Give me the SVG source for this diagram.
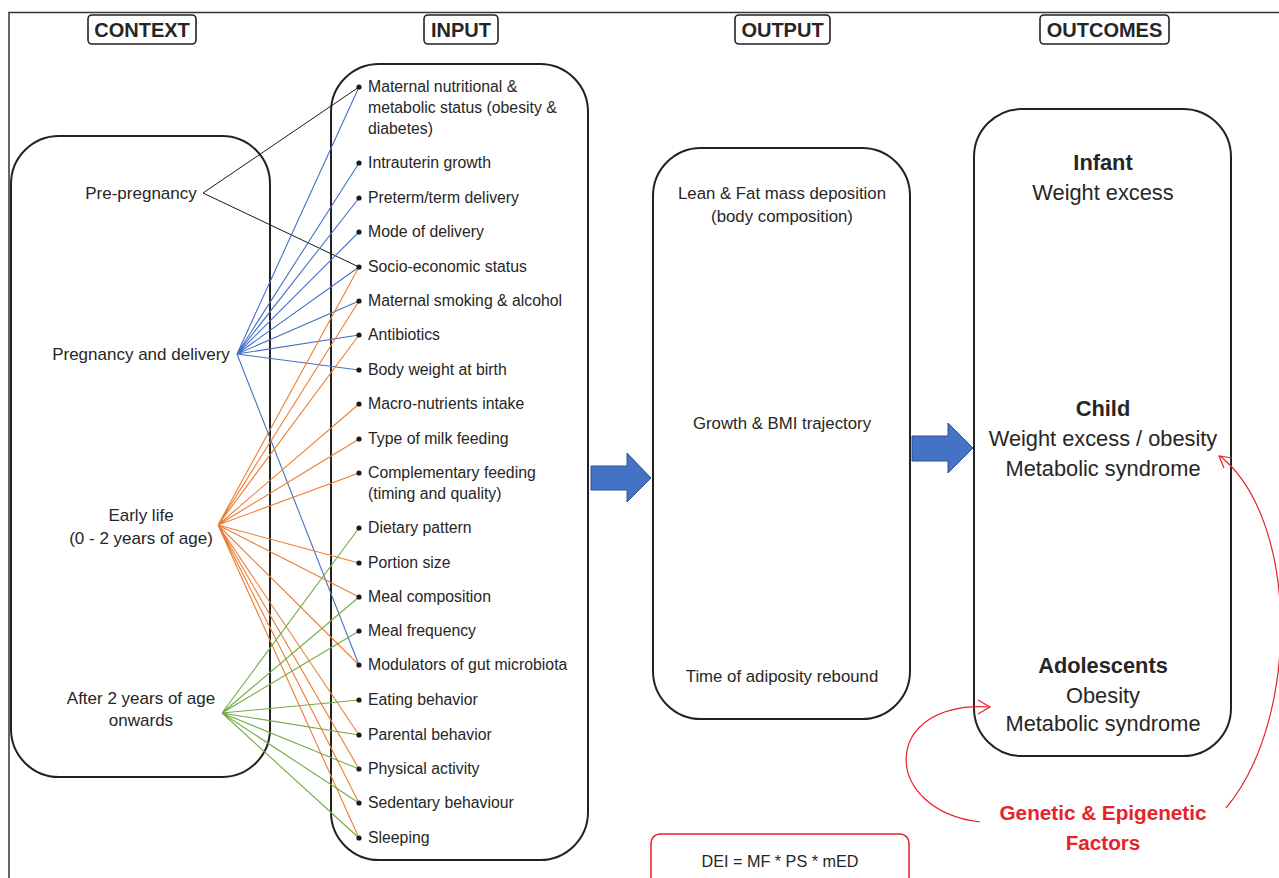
<svg xmlns="http://www.w3.org/2000/svg" width="1279" height="878" viewBox="0 0 1279 878">
<style>
text{font-family:"Liberation Sans","Open Sans",Arial,sans-serif;fill:#262626}
.hdr{font-size:20px;font-weight:bold;text-anchor:middle}
.hbox{fill:#fff;stroke:#222;stroke-width:1.6}
.box{fill:#fff;stroke:#222;stroke-width:2}
.ctx{font-size:17px;text-anchor:middle}
.item{font-size:15.8px}
.out{font-size:16.8px;text-anchor:middle}
.dei{font-size:16.2px;text-anchor:middle}
.oc{font-size:21.8px;text-anchor:middle}
.ocb{font-size:21.8px;font-weight:bold;text-anchor:middle}
.red{font-size:20.7px;font-weight:bold;text-anchor:middle;fill:#E8222A}
.dot{fill:#1a1a1a}
.k{stroke:#1a1a1a;stroke-width:1;fill:none}
.b{stroke:#4472C4;stroke-width:1.1;fill:none}
.o{stroke:#ED7D31;stroke-width:1.1;fill:none}
.g{stroke:#70AD47;stroke-width:1.1;fill:none}
.arrow{fill:#4472C4;stroke:#2F528F;stroke-width:1}
.rc{stroke:#E8222A;stroke-width:1.2;fill:none}
</style>
<rect width="1279" height="878" fill="#fff"/>
<g id="frame"><path d="M9,878 V12.5 H1279" fill="none" stroke="#333" stroke-width="1.5"/></g>

<g id="headers">
<rect class="hbox" x="88" y="15" width="108" height="29" rx="4"/><text class="hdr" x="142" y="37">CONTEXT</text>
<rect class="hbox" x="424" y="15" width="74" height="29" rx="4"/><text class="hdr" x="461" y="37">INPUT</text>
<rect class="hbox" x="735" y="15" width="95" height="29" rx="4"/><text class="hdr" x="782.5" y="37">OUTPUT</text>
<rect class="hbox" x="1040" y="15" width="129" height="29" rx="4"/><text class="hdr" x="1104.5" y="37">OUTCOMES</text>
</g>

<g id="context">
<rect class="box" x="11" y="136" width="259" height="641" rx="48"/>
<text class="ctx" x="141" y="199">Pre-pregnancy</text>
<text class="ctx" x="141" y="360">Pregnancy and delivery</text>
<text class="ctx" x="141" y="521">Early life</text>
<text class="ctx" x="141" y="544">(0 - 2 years of age)</text>
<text class="ctx" x="141" y="704">After 2 years of age</text>
<text class="ctx" x="141" y="726">onwards</text>
</g>

<g id="input">
<rect class="box" x="331" y="64" width="257" height="796" rx="48"/>
</g>

<g id="output">
<rect class="box" x="653" y="148" width="257" height="571" rx="48"/>
<text class="out" x="782" y="199">Lean &amp; Fat mass deposition</text>
<text class="out" x="782" y="222">(body composition)</text>
<text class="out" x="782" y="429">Growth &amp; BMI trajectory</text>
<text class="out" x="782" y="682">Time of adiposity rebound</text>
</g>

<g id="outcomes">
<rect class="box" x="974" y="109" width="257" height="647" rx="48"/>
<text class="ocb" x="1103" y="170">Infant</text>
<text class="oc" x="1103" y="200">Weight excess</text>
<text class="ocb" x="1103" y="416">Child</text>
<text class="oc" x="1103" y="446">Weight excess / obesity</text>
<text class="oc" x="1103" y="476">Metabolic syndrome</text>
<text class="ocb" x="1103" y="673">Adolescents</text>
<text class="oc" x="1103" y="703">Obesity</text>
<text class="oc" x="1103" y="731">Metabolic syndrome</text>
</g>

<g id="genetic">
<text class="red" x="1103" y="820">Genetic &amp; Epigenetic</text>
<text class="red" x="1103" y="850">Factors</text>
</g>

<g id="dei">
<rect x="651" y="834" width="258" height="60" rx="9" fill="#fff" stroke="#E8222A" stroke-width="1.5"/>
<text class="dei" x="780" y="867">DEI = MF * PS * mED</text>
</g>

<g id="connectors">
<path class="k" d="M203,193 L359,87 M203,193 L359,267"/>
<path class="b" d="M237,354 L359,87 M237,354 L359,163 M237,354 L359,198 M237,354 L359,232 M237,354 L359,267 M237,354 L359,301 M237,354 L359,335 M237,354 L359,370 M237,354 L359,665"/>
<path class="o" d="M218,525 L359,267 M218,525 L359,301 M218,525 L359,335 M218,525 L359,404 M218,525 L359,439 M218,525 L359,473 M218,525 L359,563 M218,525 L359,597 M218,525 L359,665 M218,525 L359,735 M218,525 L359,769 M218,525 L359,803 M218,525 L359,838"/>
<path class="g" d="M222,713 L359,528 M222,713 L359,597 M222,713 L359,631 M222,713 L359,700 M222,713 L359,735 M222,713 L359,769 M222,713 L359,803 M222,713 L359,838"/>
<path class="arrow" d="M591,466 H627 V453 L651,478 L627,502 V490 H591 Z"/>
<path class="arrow" d="M912,436 H948 V423 L973,448 L948,473 V461 H912 Z"/>
<path class="rc" d="M1226,808 C1300,720 1300,520 1220,456"/>
<path class="rc" d="M1224,468 L1219,456 L1232,458"/>
<path class="rc" d="M980,822 C880,810 880,700 990,707"/>
<path class="rc" d="M978,700 L990,707 L978,714"/>
</g>

<g id="input-items">
<circle class="dot" cx="359" cy="87" r="2.6"/><text class="item" x="368" y="92">Maternal nutritional &amp;</text>
<text class="item" x="368" y="113">metabolic status (obesity &amp;</text>
<text class="item" x="368" y="134">diabetes)</text>
<circle class="dot" cx="359" cy="163" r="2.6"/><text class="item" x="368" y="168">Intrauterin growth</text>
<circle class="dot" cx="359" cy="198" r="2.6"/><text class="item" x="368" y="203">Preterm/term delivery</text>
<circle class="dot" cx="359" cy="232" r="2.6"/><text class="item" x="368" y="237">Mode of delivery</text>
<circle class="dot" cx="359" cy="267" r="2.6"/><text class="item" x="368" y="272">Socio-economic status</text>
<circle class="dot" cx="359" cy="301" r="2.6"/><text class="item" x="368" y="306">Maternal smoking &amp; alcohol</text>
<circle class="dot" cx="359" cy="335" r="2.6"/><text class="item" x="368" y="340">Antibiotics</text>
<circle class="dot" cx="359" cy="370" r="2.6"/><text class="item" x="368" y="375">Body weight at birth</text>
<circle class="dot" cx="359" cy="404" r="2.6"/><text class="item" x="368" y="409">Macro-nutrients intake</text>
<circle class="dot" cx="359" cy="439" r="2.6"/><text class="item" x="368" y="444">Type of milk feeding</text>
<circle class="dot" cx="359" cy="473" r="2.6"/><text class="item" x="368" y="478">Complementary feeding</text>
<text class="item" x="368" y="499">(timing and quality)</text>
<circle class="dot" cx="359" cy="528" r="2.6"/><text class="item" x="368" y="533">Dietary pattern</text>
<circle class="dot" cx="359" cy="563" r="2.6"/><text class="item" x="368" y="568">Portion size</text>
<circle class="dot" cx="359" cy="597" r="2.6"/><text class="item" x="368" y="602">Meal composition</text>
<circle class="dot" cx="359" cy="631" r="2.6"/><text class="item" x="368" y="636">Meal frequency</text>
<circle class="dot" cx="359" cy="665" r="2.6"/><text class="item" x="368" y="670">Modulators of gut microbiota</text>
<circle class="dot" cx="359" cy="700" r="2.6"/><text class="item" x="368" y="705">Eating behavior</text>
<circle class="dot" cx="359" cy="735" r="2.6"/><text class="item" x="368" y="740">Parental behavior</text>
<circle class="dot" cx="359" cy="769" r="2.6"/><text class="item" x="368" y="774">Physical activity</text>
<circle class="dot" cx="359" cy="803" r="2.6"/><text class="item" x="368" y="808">Sedentary behaviour</text>
<circle class="dot" cx="359" cy="838" r="2.6"/><text class="item" x="368" y="843">Sleeping</text>
</g>
</svg>
